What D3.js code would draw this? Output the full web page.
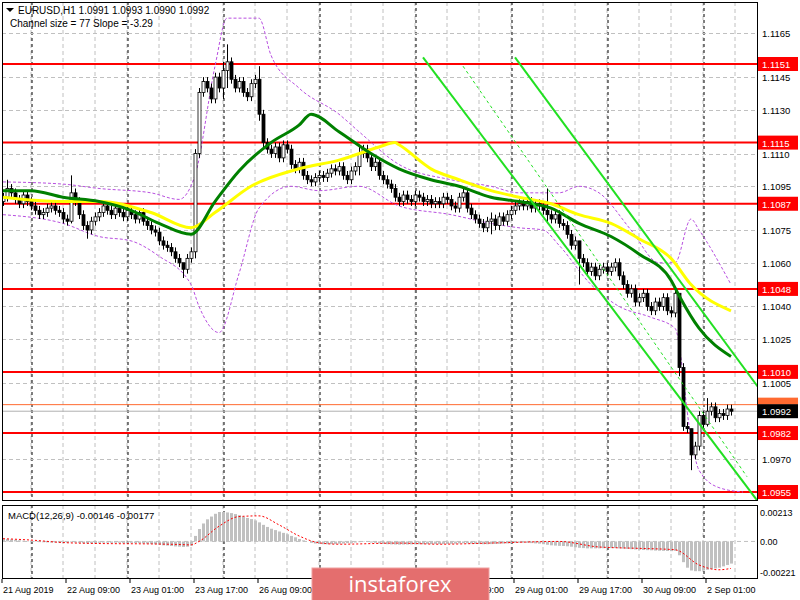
<!DOCTYPE html>
<html><head><meta charset="utf-8">
<script src="https://cdn.jsdelivr.net/npm/d3@7"></script>
<style>body{margin:0;background:#fff}svg{display:block}</style>
</head><body><div id="chart"></div>
<script>
"use strict";

// == DATA ==
var closes = [
  1.1090,1.1094,1.1092,1.1089,1.1087,1.1091,1.1088,1.1086,
  1.1084,1.1082,1.1083,1.1085,1.1086,1.1084,1.1083,1.1080,
  1.1079,1.1092,1.1088,1.1082,1.1077,1.1075,1.1079,1.1081,
  1.1083,1.1086,1.1084,1.1082,1.1085,1.1083,1.1081,1.1084,
  1.1082,1.1080,1.1083,1.1079,1.1077,1.1075,1.1074,1.1070,
  1.1068,1.1067,1.1065,1.1062,1.1060,1.1057,1.1062,1.1065,
  1.1110,1.1138,1.1143,1.1140,1.1135,1.1145,1.1140,1.1148,
  1.1152,1.1144,1.1140,1.1143,1.1138,1.1136,1.1142,1.1144,
  1.1128,1.1115,1.1112,1.1110,1.1113,1.1108,1.1114,1.1112,
  1.1105,1.1103,1.1106,1.1100,1.1098,1.1097,1.1099,1.1100,
  1.1099,1.1101,1.1103,1.1102,1.1104,1.1100,1.1098,1.1102,
  1.1104,1.1110,1.1112,1.1108,1.1104,1.1106,1.1100,1.1098,
  1.1096,1.1094,1.1090,1.1088,1.1091,1.1089,1.1088,1.1091,
  1.1090,1.1088,1.1089,1.1087,1.1088,1.1087,1.1090,1.1089,
  1.1086,1.1085,1.1090,1.1092,1.1085,1.1082,1.1080,1.1078,
  1.1076,1.1079,1.1080,1.1077,1.1081,1.1079,1.1082,1.1084,
  1.1086,1.1087,1.1086,1.1088,1.1085,1.1087,1.1086,1.1084,
  1.1082,1.1080,1.1082,1.1078,1.1077,1.1073,1.1068,1.1070,
  1.1062,1.1060,1.1056,1.1058,1.1054,1.1057,1.1058,1.1056,
  1.1058,1.1060,1.1054,1.1050,1.1046,1.1048,1.1042,1.1044,
  1.1046,1.1040,1.1038,1.1042,1.1040,1.1044,1.1038,1.1037,
  1.1046,1.1012,1.0985,1.0984,1.0972,1.0976,1.0990,1.0986,
  1.0992,1.0994,1.0989,1.0991,1.0990,1.0993,1.0992
];
var firstOpen = 1.1088;
// notable wick extremes [bar, high, low]
var spikes = [[1,1.1098,1.1088],[17,1.1100,1.1078],[21,1.1079,1.1071],[45,1.1059,1.1053],
  [48,1.1112,1.1062],[55,1.1152,1.1135],[56,1.1160,1.1140],[64,1.1150,1.1125],
  [89,1.1114,1.1100],[122,1.1083,1.1073],[136,1.1094,1.1078],[144,1.1070,1.1050],
  [169,1.1045,1.1008],[172,1.0984,1.0965],[176,1.0998,1.0985]];

var greenMA = [[0,1.1093],[7,1.1093],[15,1.1090],[24,1.1088],[32,1.1084],[39,1.1078],[47,1.1073],
  [53,1.1088],[59,1.1102],[67,1.1115],[74,1.1123],[77,1.1128],[84,1.1120],[92,1.1110],[99,1.1103],
  [107,1.1098],[114,1.1095],[122,1.1090],[129,1.1088],[137,1.1085],[144,1.1078],[152,1.1072],
  [159,1.1064],[167,1.1052],[169,1.1045],[174,1.1030],[182,1.1017]];
var yellowMA = [[0,1.1090],[15,1.1088],[24,1.1088],[37,1.1083],[47,1.1076],[53,1.1083],[62,1.1095],
  [74,1.1103],[84,1.1107],[94,1.1113],[98,1.1115],[99,1.1114],[107,1.1103],[114,1.1098],
  [122,1.1093],[129,1.1090],[137,1.1087],[144,1.1082],[152,1.1078],[159,1.1071],[167,1.1062],
  [172,1.1050],[182,1.1038]];
var upperBand = [[0,1.1097],[15,1.1096],[24,1.1094],[37,1.1092],[44,1.1089],[48,1.1100],[53,1.1150],
  [56,1.1172],[64,1.1172],[67,1.1155],[74,1.1140],[84,1.1128],[89,1.1120],[99,1.1105],[112,1.1098],
  [122,1.1095],[129,1.1092],[139,1.1092],[144,1.1095],[149,1.1092],[157,1.1075],[164,1.1060],
  [168,1.1060],[172,1.1080],[174,1.1075],[182,1.1050]];
var lowerBand = [[0,1.1082],[15,1.1078],[24,1.1072],[32,1.1070],[39,1.1063],[47,1.1050],[49,1.1040],
  [54,1.1028],[59,1.1055],[64,1.1085],[72,1.1095],[79,1.1093],[89,1.1095],[99,1.1086],[112,1.1082],
  [122,1.1078],[129,1.1076],[135,1.1075],[139,1.1068],[147,1.1050],[154,1.1040],[162,1.1035],
  [168,1.1030],[172,1.0980],[174,1.0965],[179,1.0957],[185,1.0955]];

var channel = [[[105,1.1154],[189,1.0950]],[[128,1.1154],[190,1.1000]],[[115,1.1150],[186,1.0962]]];
var levels = [1.1151,1.1115,1.1087,1.1048,1.1010,1.0982,1.0955];
var priceTicks = [1.1165,1.1145,1.1130,1.1110,1.1095,1.1075,1.1060,1.1040,1.1025,1.1005,1.0970];
var lastPrice = 1.0992, askPrice = 1.0995;

var macdHist = [
  20,18,15,12,8,5,3,0, -3,-5,-6,-7,-8,-8,-9,-10, -8,-6,-8,-10,-12,-13,-12,-11,
  -10,-9,-9,-10,-9,-10,-11,-10, -10,-11,-12,-14,-16,-18,-20,-24, -28,-30,-33,-36,-38,-40,-38,-30,
  40,90,130,160,180,200,213,213, 210,205,198,190,180,170,162,152, 138,120,105,92,82,72,62,52,
  40,30,18,8,0,-10,-15,-18, -20,-20,-19,-18,-16,-15,-12,-10, -8,-5,-3,-4,-8,-10,-14,-17,
  -20,-21,-22,-23,-22,-22,-21,-21, -20,-20,-19,-19,-18,-19,-18,-18, -17,-16,-14,-13,-14,-16,-18,-19,
  -20,-20,-19,-18,-17,-15,-14,-12, -10,-9,-9,-10,-12,-14,-16,-20, -24,-28,-30,-32,-33,-35,-38,-42,
  -46,-48,-50,-50,-50,-50,-49,-48, -48,-48,-50,-52,-54,-56,-58,-60, -62,-63,-64,-66,-67,-68,-69,-70,
  -68,-100,-150,-190,-210,-215,-215,-210, -205,-200,-195,-190,-180,-170,-160
];
var macdSignal = [[0,20],[7,10],[15,-8],[24,-15],[37,-18],[44,-22],[47,-25],[49,0],[54,110],[59,180],
  [64,185],[69,120],[74,40],[79,-10],[84,-20],[99,-12],[109,-20],[124,-10],[139,0],[149,-40],
  [159,-50],[168,-60],[174,-170],[179,-205],[182,-195]];
var macdTicks = [[0.00213,"0.00213"],[0,"0.00"],[-0.00221,"-0.00221"]];

var timeLabels = [[0,"21 Aug 2019"],[16,"22 Aug 09:00"],[32,"23 Aug 01:00"],[48,"23 Aug 17:00"],
  [64,"26 Aug 09:00"],[80,"27 Aug 01:00"],[96,"27 Aug 17:00"],[112,"28 Aug 09:00"],
  [128,"29 Aug 01:00"],[144,"29 Aug 17:00"],[160,"30 Aug 09:00"],[176,"2 Sep 01:00"]];
var daySeps = [7,31,55,79,103,127,151,175];

// == SETUP ==
var W = 800, H = 600, plotR = 757;
var svg = d3.select("#chart").append("svg").attr("width", W).attr("height", H)
  .style("font-family", "'Liberation Sans', Arial, sans-serif");

var x = d3.scaleLinear().domain([0, 1]).range([3, 7]);
var y = d3.scaleLinear().domain([1.0955, 1.1151]).range([492, 64]);
var ym = d3.scaleLinear().domain([-0.00221, 0.00213]).range([572, 512]);

svg.append("clipPath").attr("id", "cp").append("rect")
  .attr("x", 2).attr("y", 2).attr("width", plotR - 2).attr("height", 498);
svg.append("clipPath").attr("id", "cm").append("rect")
  .attr("x", 2).attr("y", 505).attr("width", plotR - 2).attr("height", 73);

var gp = svg.append("g").attr("clip-path", "url(#cp)");
var gm = svg.append("g").attr("clip-path", "url(#cm)");

// grid
var gridX = d3.range(-1, 190, 8);
[gp, gm].forEach(function (g, k) {
  g.selectAll(".gx").data(gridX).enter().append("line")
    .attr("x1", function (d) { return x(d); }).attr("x2", function (d) { return x(d); })
    .attr("y1", k ? 505 : 2).attr("y2", k ? 578 : 500)
    .attr("stroke", "#c0c0c0").attr("stroke-dasharray", "4,3");
  g.selectAll(".ds").data(daySeps).enter().append("line")
    .attr("x1", function (d) { return x(d + 0.25); }).attr("x2", function (d) { return x(d + 0.25); })
    .attr("y1", k ? 505 : 2).attr("y2", k ? 578 : 500)
    .attr("stroke", "#000").attr("stroke-dasharray", "3,3");
});
gp.selectAll(".gy").data(priceTicks).enter().append("line")
  .attr("x1", 2).attr("x2", plotR).attr("y1", function (d) { return Math.round(y(d)) + 0.5; })
  .attr("y2", function (d) { return Math.round(y(d)) + 0.5; })
  .attr("stroke", "#c0c0c0").attr("stroke-dasharray", "4,3");
gm.append("line").attr("x1", 2).attr("x2", plotR).attr("y1", ym(0)).attr("y2", ym(0))
  .attr("stroke", "#c0c0c0").attr("stroke-dasharray", "4,3");

// levels
gp.selectAll(".lv").data(levels).enter().append("line")
  .attr("x1", 2).attr("x2", plotR).attr("y1", function (d) { return y(d); }).attr("y2", function (d) { return y(d); })
  .attr("stroke", "#ff0000").attr("stroke-width", 2);
gp.append("line").attr("x1", 2).attr("x2", plotR).attr("y1", y(askPrice)).attr("y2", y(askPrice)).attr("stroke", "#ff6a30");
gp.append("line").attr("x1", 2).attr("x2", plotR).attr("y1", y(lastPrice)).attr("y2", y(lastPrice)).attr("stroke", "#b0b0b0");

// bands
var line = d3.line().x(function (d) { return x(d[0]); }).y(function (d) { return y(d[1]); }).curve(d3.curveMonotoneX);
[upperBand, lowerBand].forEach(function (b) {
  gp.append("path").attr("d", line(b)).attr("fill", "none").attr("stroke", "#b84fe0").attr("stroke-dasharray", "3,2");
});

// candles
var bars = closes.map(function (c, i) {
  var o = i ? closes[i - 1] : firstOpen;
  var hi = Math.max(o, c) + 0.0002, lo = Math.min(o, c) - 0.0002;
  spikes.forEach(function (s) { if (s[0] === i) { hi = s[1]; lo = s[2]; } });
  return { i: i, o: o, c: c, h: hi, l: lo };
});
var cg = gp.selectAll(".cd").data(bars).enter().append("g");
cg.append("line").attr("x1", function (d) { return Math.round(x(d.i)) + 0.5; })
  .attr("x2", function (d) { return Math.round(x(d.i)) + 0.5; })
  .attr("y1", function (d) { return y(d.h); }).attr("y2", function (d) { return y(d.l); }).attr("stroke", "#000");
cg.append("rect").attr("x", function (d) { return Math.round(x(d.i)) - 1; })
  .attr("y", function (d) { return y(Math.max(d.o, d.c)); }).attr("width", 3)
  .attr("height", function (d) { return Math.max(1, Math.abs(y(d.o) - y(d.c))); })
  .attr("fill", function (d) { return d.c >= d.o ? "#fff" : "#000"; }).attr("stroke", "#000").attr("stroke-width", 0.8);

// moving averages
gp.append("path").attr("d", line(yellowMA)).attr("fill", "none").attr("stroke", "#ffff00").attr("stroke-width", 3);
gp.append("path").attr("d", line(greenMA)).attr("fill", "none").attr("stroke", "#008000").attr("stroke-width", 3);

// channel
channel.forEach(function (c, k) {
  gp.append("line").attr("x1", x(c[0][0])).attr("y1", y(c[0][1])).attr("x2", x(c[1][0])).attr("y2", y(c[1][1]))
    .attr("stroke", "#22e022").attr("stroke-width", k === 2 ? 1 : 2).attr("stroke-dasharray", k === 2 ? "3,3" : null);
});

// MACD
gm.selectAll(".mh").data(macdHist).enter().append("rect")
  .attr("x", function (d, i) { return Math.round(x(i)) - 1; }).attr("width", 3)
  .attr("y", function (d) { return ym(Math.max(0, d * 1e-5)); })
  .attr("height", function (d) { return Math.abs(ym(d * 1e-5) - ym(0)); }).attr("fill", "#c0c0c0");
var mline = d3.line().x(function (d) { return x(d[0]); }).y(function (d) { return ym(d[1] * 1e-5); }).curve(d3.curveMonotoneX);
gm.append("path").attr("d", mline(macdSignal)).attr("fill", "none").attr("stroke", "#ff0000").attr("stroke-dasharray", "2,2");

// frames
svg.append("rect").attr("x", 2.5).attr("y", 2.5).attr("width", plotR - 2).attr("height", 498).attr("fill", "none").attr("stroke", "#000");
svg.append("rect").attr("x", 2.5).attr("y", 505.5).attr("width", plotR - 2).attr("height", 73).attr("fill", "none").attr("stroke", "#000");

// axis labels
svg.selectAll(".pt").data(priceTicks).enter().append("text").attr("x", 762).attr("y", function (d) { return y(d) + 4; })
  .attr("font-size", 9.5).text(function (d) { return d.toFixed(4); });
svg.selectAll(".pl").data(levels).enter().append("g").each(function (d) {
  var g = d3.select(this);
  g.append("rect").attr("x", 758).attr("y", y(d) - 7).attr("width", 40).attr("height", 14).attr("fill", "#ff0000");
  g.append("text").attr("x", 762).attr("y", y(d) + 4).attr("font-size", 9.5).attr("fill", "#fff").text(d.toFixed(4));
});
svg.append("rect").attr("x", 758).attr("y", y(askPrice) - 7).attr("width", 40).attr("height", 7).attr("fill", "#ff6a30");
svg.append("rect").attr("x", 758).attr("y", y(lastPrice) - 7).attr("width", 40).attr("height", 14).attr("fill", "#000");
svg.append("text").attr("x", 762).attr("y", y(lastPrice) + 4).attr("font-size", 9.5).attr("fill", "#fff").text(lastPrice.toFixed(4));
svg.selectAll(".mt").data(macdTicks).enter().append("text").attr("x", 760).attr("y", function (d) { return ym(d[0]) + 4; })
  .attr("font-size", 9).text(function (d) { return d[1]; });
svg.selectAll(".tl").data(timeLabels).enter().append("text").attr("x", function (d) { return x(d[0]); }).attr("y", 593)
  .attr("font-size", 9).text(function (d) { return d[1]; });
svg.selectAll(".tk").data(timeLabels).enter().append("line").attr("x1", function (d) { return x(d[0]) - 1; })
  .attr("x2", function (d) { return x(d[0]) - 1; }).attr("y1", 579).attr("y2", 583).attr("stroke", "#000");

// header texts
svg.append("path").attr("d", "M6,8 L14,8 L10,12 Z").attr("fill", "#000");
svg.append("text").attr("x", 18).attr("y", 14).attr("font-size", 10).text("EURUSD,H1  1.0991 1.0993 1.0990 1.0992");
svg.append("text").attr("x", 10).attr("y", 27).attr("font-size", 10).text("Channel size = 77 Slope = -3.29");
svg.append("text").attr("x", 8).attr("y", 519).attr("font-size", 9.5).text("MACD(12,26,9) -0.00146 -0.00177");

// banner
svg.append("rect").attr("x", 312).attr("y", 568).attr("width", 177).attr("height", 33).attr("fill", "#e46e6e").attr("stroke", "#f0a0a0");
svg.append("text").attr("x", 400).attr("y", 592).attr("text-anchor", "middle").attr("font-size", 22)
  .attr("font-family", "'Open Sans', sans-serif").attr("fill", "#fff").text("instaforex");
</script></body></html>
